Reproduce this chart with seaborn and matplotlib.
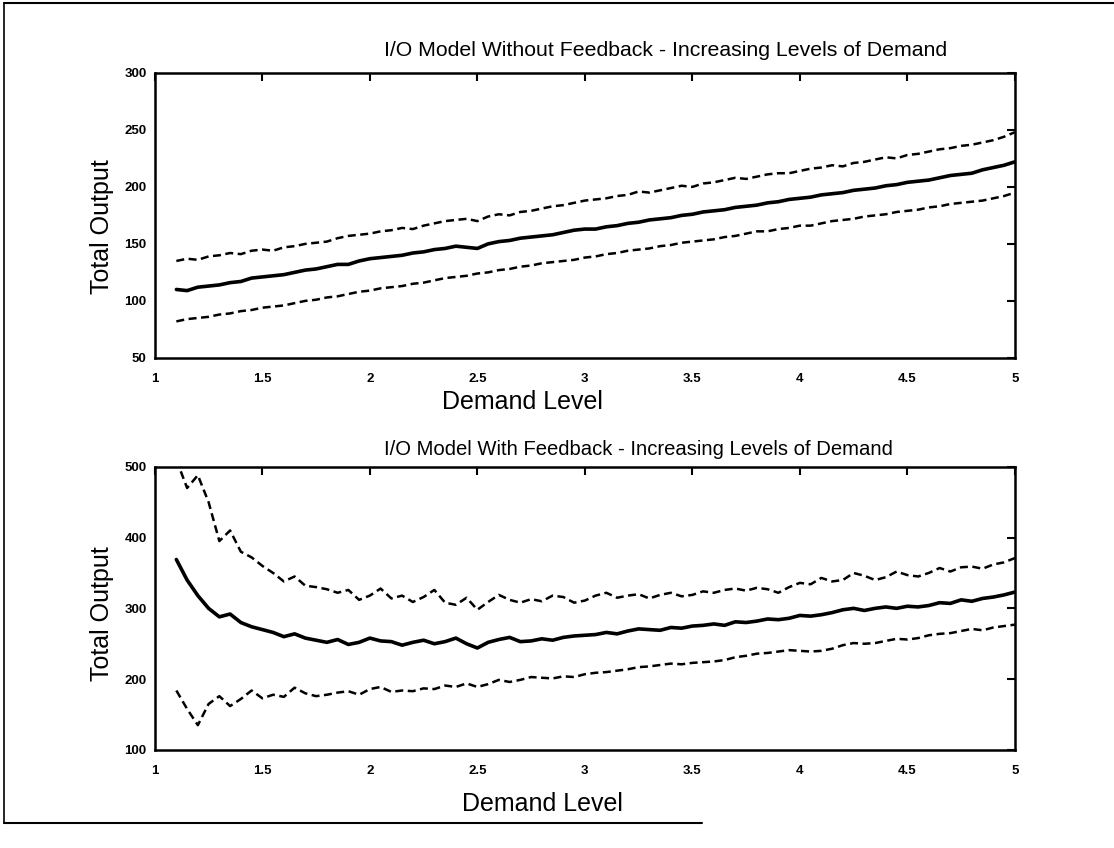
import numpy as np
import pandas as pd
import matplotlib
matplotlib.use("Agg")
import matplotlib.pyplot as plt
from matplotlib.lines import Line2D
import seaborn as sns

# Demand levels (x) shared by every series
demand = np.round(np.arange(1.10, 5.0001, 0.05), 2)

# Model without feedback: mean and upper / lower bands
nofb_mean = [110, 109, 112, 113, 114, 116, 117, 120, 121, 122,
             123, 125, 127, 128, 130, 132, 132, 135, 137, 138,
             139, 140, 142, 143, 145, 146, 148, 147, 146, 150,
             152, 153, 155, 156, 157, 158, 160, 162, 163, 163,
             165, 166, 168, 169, 171, 172, 173, 175, 176, 178,
             179, 180, 182, 183, 184, 186, 187, 189, 190, 191,
             193, 194, 195, 197, 198, 199, 201, 202, 204, 205,
             206, 208, 210, 211, 212, 215, 217, 219, 222]
nofb_upper = [135, 137, 136, 139, 140, 142, 141, 144, 145, 144,
              147, 148, 150, 151, 152, 155, 157, 158, 159, 161,
              162, 164, 163, 166, 168, 170, 171, 172, 170, 174,
              176, 175, 178, 179, 181, 183, 184, 186, 188, 189,
              190, 192, 193, 196, 195, 197, 199, 201, 200, 203,
              204, 206, 208, 207, 209, 211, 212, 212, 214, 216,
              217, 219, 218, 221, 222, 224, 226, 225, 228, 229,
              231, 233, 234, 236, 237, 239, 241, 244, 248]
nofb_lower = [82, 84, 85, 86, 88, 89, 91, 92, 94, 95,
              96, 98, 100, 101, 103, 104, 106, 108, 109, 111,
              112, 113, 115, 116, 118, 120, 121, 122, 124, 125,
              127, 128, 130, 131, 133, 134, 135, 136, 138, 139,
              141, 142, 144, 145, 146, 148, 149, 151, 152, 153,
              154, 156, 157, 159, 161, 161, 163, 164, 166, 166,
              168, 170, 171, 172, 174, 175, 176, 178, 179, 180,
              182, 183, 185, 186, 187, 188, 190, 192, 195]

# Model with feedback: mean and upper / lower bands
fb_mean = [369, 340, 318, 300, 288, 292, 280, 274, 270, 266,
           260, 264, 258, 255, 252, 256, 249, 252, 258, 254,
           253, 248, 252, 255, 250, 253, 258, 250, 244, 252,
           256, 259, 253, 254, 257, 255, 259, 261, 262, 263,
           266, 264, 268, 271, 270, 269, 273, 272, 275, 276,
           278, 276, 281, 280, 282, 285, 284, 286, 290, 289,
           291, 294, 298, 300, 297, 300, 302, 300, 303, 302,
           304, 308, 307, 312, 310, 314, 316, 319, 323]
fb_upper = [510, 470, 488, 450, 395, 410, 380, 372, 360, 350,
            338, 345, 332, 330, 327, 322, 326, 312, 318, 328,
            314, 318, 309, 316, 326, 308, 305, 315, 298, 309,
            319, 312, 308, 313, 310, 318, 316, 308, 311, 318,
            322, 315, 318, 320, 314, 319, 322, 317, 319, 324,
            322, 326, 328, 325, 329, 327, 322, 330, 336, 334,
            343, 338, 340, 350, 346, 340, 344, 352, 347, 345,
            350, 357, 352, 358, 359, 356, 362, 365, 371]
fb_lower = [184, 158, 135, 165, 176, 162, 172, 184, 173, 178,
            175, 188, 180, 176, 178, 181, 183, 178, 186, 189,
            182, 184, 183, 187, 186, 191, 189, 194, 189, 193,
            199, 196, 199, 203, 202, 201, 204, 203, 207, 209,
            210, 212, 214, 217, 218, 220, 222, 221, 223, 224,
            225, 227, 231, 233, 236, 237, 239, 241, 240, 239,
            240, 243, 248, 251, 250, 251, 254, 257, 256, 258,
            262, 264, 265, 268, 271, 269, 273, 275, 277]

x_ticks = [1, 1.5, 2, 2.5, 3, 3.5, 4, 4.5, 5]
x_ticklabels = ["1", "1.5", "2", "2.5", "3", "3.5", "4", "4.5", "5"]

panels = [
    dict(title="I/O Model Without Feedback - Increasing Levels of Demand",
         mean=nofb_mean, upper=nofb_upper, lower=nofb_lower,
         ylim=(50, 300), yticks=[50, 100, 150, 200, 250, 300],
         title_y=1.08, title_size=15.3,
         xlabel_pos=(0.428, -0.112), ylabel_pos=(-0.047, 0.46)),
    dict(title="I/O Model With Feedback - Increasing Levels of Demand",
         mean=fb_mean, upper=fb_upper, lower=fb_lower,
         ylim=(100, 500), yticks=[100, 200, 300, 400, 500],
         title_y=1.062, title_size=14.6,
         xlabel_pos=(0.451, -0.148), ylabel_pos=(-0.047, 0.48)),
]

sns.set_style("white")
plt.rcParams["font.family"] = ["Liberation Sans", "DejaVu Sans"]
plt.rcParams["text.color"] = "black"
plt.rcParams["axes.labelcolor"] = "black"
plt.rcParams["xtick.color"] = "black"
plt.rcParams["ytick.color"] = "black"

fig = plt.figure(figsize=(11.14, 8.48), dpi=100)
ax_top = fig.add_axes([0.139, 0.578, 0.772, 0.336])
ax_bot = fig.add_axes([0.139, 0.1156, 0.772, 0.334])

dash = (0, (3.2, 1.8))
for ax, p in zip([ax_top, ax_bot], panels):
    df = pd.DataFrame({"demand": demand, "mean": p["mean"],
                       "upper": p["upper"], "lower": p["lower"]})
    sns.lineplot(data=df, x="demand", y="upper", ax=ax, color="black",
                 linewidth=1.8, linestyle=dash, estimator=None)
    sns.lineplot(data=df, x="demand", y="lower", ax=ax, color="black",
                 linewidth=1.8, linestyle=dash, estimator=None)
    sns.lineplot(data=df, x="demand", y="mean", ax=ax, color="black",
                 linewidth=2.6, estimator=None)

    ax.set_xlim(1, 5)
    ax.set_ylim(*p["ylim"])
    ax.set_xticks(x_ticks)
    ax.set_xticklabels(x_ticklabels)
    ax.set_yticks(p["yticks"])
    ax.set_yticklabels([str(v) for v in p["yticks"]])
    ax.tick_params(direction="in", length=6, width=1.5, top=True, right=True,
                   labelsize=9.5, colors="black", labelcolor="black")
    ax.tick_params(axis="x", pad=11)
    ax.tick_params(axis="y", pad=6)
    for lab in ax.get_xticklabels() + ax.get_yticklabels():
        lab.set_fontweight("bold")
    for sp in ax.spines.values():
        sp.set_visible(True)
        sp.set_color("black")
        sp.set_linewidth(1.8)
    ax.text(0.267, p["title_y"], p["title"], transform=ax.transAxes,
            ha="left", va="center", fontsize=p["title_size"], color="black")
    ax.set_xlabel("Demand Level", fontsize=18, color="black")
    ax.set_ylabel("Total Output", fontsize=18, color="black")
    ax.xaxis.set_label_coords(*p["xlabel_pos"])
    ax.yaxis.set_label_coords(*p["ylabel_pos"])
    ax.grid(False)

# Frame around the figure
fig.add_artist(Line2D([0.004, 0.004], [0.030, 0.996], transform=fig.transFigure,
                      color="black", linewidth=1.2))
fig.add_artist(Line2D([0.004, 1.0], [0.996, 0.996], transform=fig.transFigure,
                      color="black", linewidth=1.5))
fig.add_artist(Line2D([0.004, 0.63], [0.030, 0.030], transform=fig.transFigure,
                      color="black", linewidth=1.5))

fig.savefig("out.png", dpi=100, facecolor="white")
